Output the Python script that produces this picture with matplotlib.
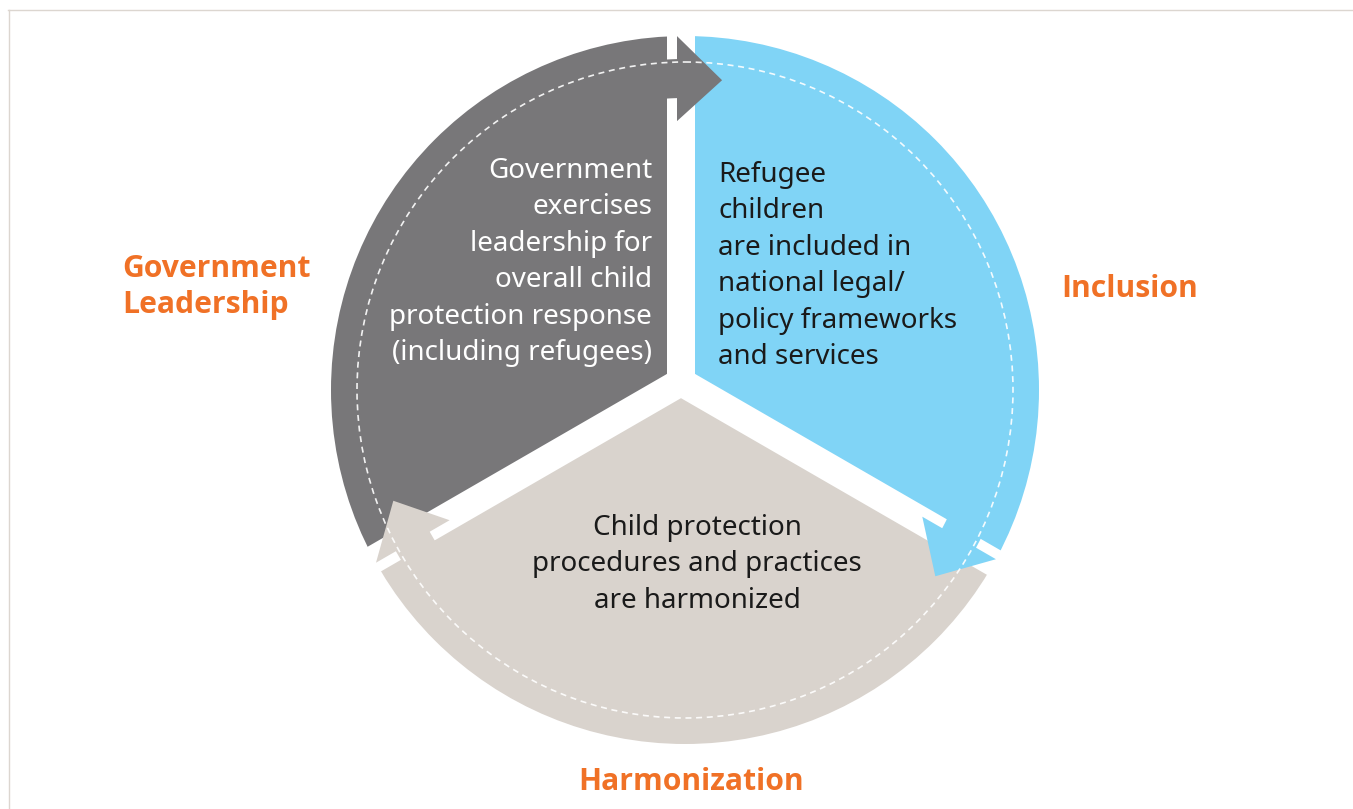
import numpy as np
import matplotlib.pyplot as plt
from matplotlib.patches import Circle, Polygon

# Тексты диаграммы
sector_texts = [
    "Government\nexercises\nleadership for\noverall child\nprotection response\n(including refugees)",
    "Refugee\nchildren\nare included in\nnational legal/\npolicy frameworks\nand services",
    "Child protection\nprocedures and practices\nare harmonized",
]
labels = ["Government\nLeadership", "Inclusion", "Harmonization"]
# сектора: (начальный угол разрыва, конечный угол разрыва) в градусах
sector_angles = [(90, 210), (-30, 90), (210, 330)]
sector_colors = ["#787779", "#80d4f6", "#d9d3cd"]
text_colors = ["white", "#1a1a1a", "#1a1a1a"]
orange = "#f07126"

W, H = 1353, 809
fig = plt.figure(figsize=(W / 100, H / 100), dpi=100)
ax = fig.add_axes([0, 0, 1, 1])
ax.set_xlim(0, W)
ax.set_ylim(H, 0)
ax.axis("off")

C = np.array([685.0, 390.0])   # центр круга
G = np.array([681.0, 382.0])   # точка схождения разрывов
R = 354
gap = 14


def pt(center, r, deg):
    a = np.radians(deg)
    return np.array([center[0] + r * np.cos(a), center[1] - r * np.sin(a)])


clip = Circle(C, R, transform=ax.transData)
for (a1, a2), col in zip(sector_angles, sector_colors):
    pts = [G] + [pt(G, 500, a) for a in np.linspace(a1, a2, 60)]
    p = Polygon(pts, closed=True, fc=col, ec="none")
    ax.add_patch(p)
    p.set_clip_path(clip)

# белые разрывы
for g in [90, 210, 330]:
    u = pt([0, 0], 1, g)
    n = pt([0, 0], 1, g + 90)
    s = G - 14 * u
    e = G + 500 * u
    ax.add_patch(Polygon([s + gap * n, e + gap * n, e - gap * n, s - gap * n], fc="white", ec="none"))
ax.add_patch(Circle(G, 16, fc="white", ec="none"))


def on_line(p0, u, r):
    # точка на прямой p0 + t*u на расстоянии r от C
    d = p0 - C
    b = np.dot(d, u)
    c = np.dot(d, d) - r * r
    t = -b + np.sqrt(b * b - c)
    return p0 + t * u


def ang(p):
    return np.degrees(np.arctan2(-(p[1] - C[1]), p[0] - C[0]))


# стрелки
for g, col in zip([90, -30, 210], sector_colors):
    u = pt([0, 0], 1, g)
    n = pt([0, 0], 1, g + 90)
    p0 = G + 4 * n
    inner = on_line(p0, u, 269)
    outer = on_line(p0, u, 354)
    mid = on_line(p0, u, 311)
    tb = ang(mid)
    tip = pt(C, 312, tb - 8.3)
    th = np.linspace(tb + 14, tb - 0.5, 40)
    shaft = [pt(C, 331, t) for t in th] + [pt(C, 292, t) for t in th[::-1]]
    ax.add_patch(Polygon(shaft, fc=col, ec="none"))
    ax.add_patch(Polygon([inner, tip, outer], fc=col, ec="none"))

ax.add_patch(Circle(C, 328, fill=False, ec="white", lw=1.2, ls=(0, (3.6, 2.8)), alpha=0.9))

font = "Noto Sans"
ax.text(652, 157, sector_texts[0], color=text_colors[0], fontsize=20, family=font,
        ha="right", va="top", linespacing=1.40)
ax.text(718, 161, sector_texts[1], color=text_colors[1], fontsize=20, family=font,
        ha="left", va="top", linespacing=1.40)
ax.text(697, 514, sector_texts[2], color=text_colors[2], fontsize=20, family=font,
        ha="center", va="top", linespacing=1.40)

bold = "Open Sans"
ax.text(122, 287, labels[0], color=orange, fontsize=21.7, family=bold, weight="bold",
        ha="left", va="center", linespacing=1.3)
ax.text(1061, 289, labels[1], color=orange, fontsize=21.7, family=bold, weight="bold",
        ha="left", va="center")
ax.text(691, 782, labels[2], color=orange, fontsize=21.7, family=bold, weight="bold",
        ha="center", va="center")

# рамка
ax.plot([8, W], [9.5, 9.5], color="#dcd6d0", lw=1)
ax.plot([8.5, 8.5], [9.5, H], color="#dcd6d0", lw=1)

fig.savefig("out.png", dpi=100)
